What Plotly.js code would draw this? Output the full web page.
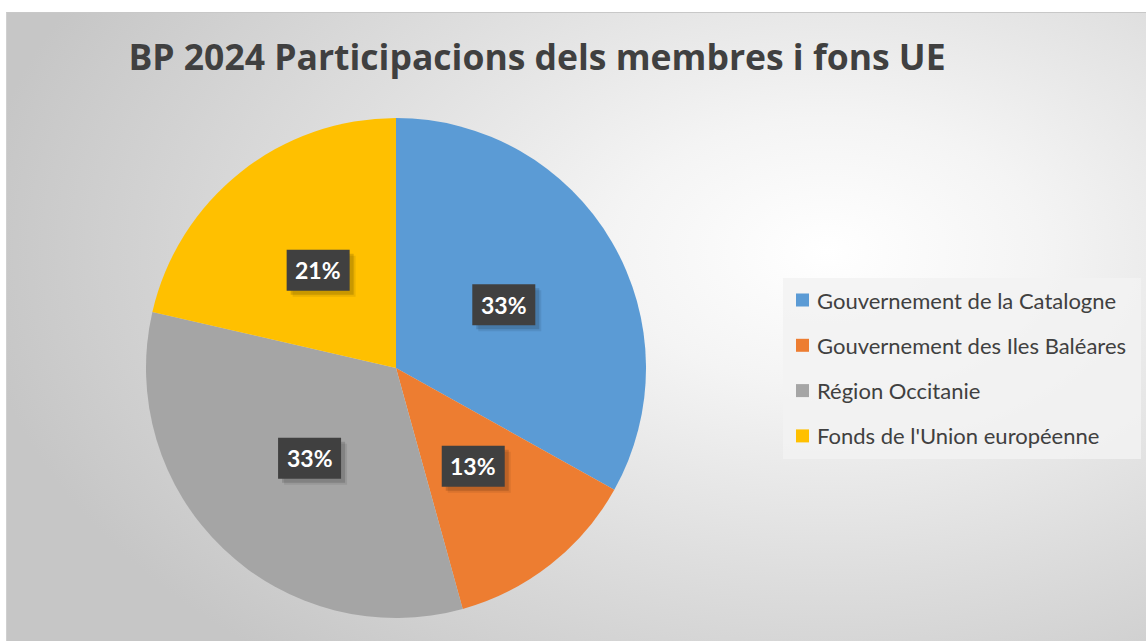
<!DOCTYPE html>
<html>
<head>
<meta charset="utf-8">
<script src="https://cdn.plot.ly/plotly-3.0.1.min.js"></script>
<style>
  html, body { margin:0; padding:0; background:#ffffff; }
  #wrap { position:relative; width:1146px; height:641px; overflow:hidden; background:#ffffff; }
  #bg { position:absolute; left:6px; top:12px; right:0; bottom:0;
        border-top:1px solid #c8c8c8; border-left:1px solid #d0d0d0;
        background: radial-gradient(ellipse 75% 85% at 72% 38%, #ffffff 0%, #f4f4f4 25%, #dedede 60%, #c6c6c6 100%); }
  #chart { position:absolute; left:0; top:0; width:1146px; height:641px; }
</style>
</head>
<body>
<div id="wrap"><div id="bg"></div><div id="chart"></div></div>
<script>
const categories = ["Gouvernement de la Catalogne", "Gouvernement des Iles Baléares", "Région Occitanie", "Fonds de l'Union européenne"];
const values = [33.1, 12.6, 32.9, 21.4];
const colors = ["#5B9BD5", "#ED7D31", "#A5A5A5", "#FFC000"];
const titleText = "BP 2024 Participacions dels membres i fons UE";

const W = 1146, H = 641;
const cx = 396, cy = 368, R = 250;
const total = values.reduce((a, b) => a + b, 0);

const trace = {
  type: 'pie',
  labels: categories,
  values: values,
  sort: false,
  direction: 'clockwise',
  rotation: 0,
  marker: { colors: colors, line: { width: 0 } },
  textinfo: 'none',
  hoverinfo: 'skip',
  showlegend: false,
  domain: { x: [(cx - R) / W, (cx + R) / W], y: [1 - (cy + R) / H, 1 - (cy - R) / H] }
};

const annotations = [];
const shapes = [];
let cum = 0;
const bw = 63, bh = 41;
values.forEach((v, i) => {
  const mid = (cum + v / 2) / total * 2 * Math.PI;
  cum += v;
  const px = cx + 0.5 * R * Math.sin(mid);
  const py = cy - 0.5 * R * Math.cos(mid);
  const txt = Math.round(v / total * 100) + '%';
  // soft shadow (two layers)
  [[6, 0.08], [4, 0.14]].forEach(([o, a]) => {
    shapes.push({ type: 'rect', xref: 'paper', yref: 'paper',
      x0: (px - bw / 2 + o) / W, x1: (px + bw / 2 + o) / W,
      y0: 1 - (py + bh / 2 + o) / H, y1: 1 - (py - bh / 2 + o) / H,
      fillcolor: 'rgba(0,0,0,' + a + ')', line: { width: 0 } });
  });
  shapes.push({ type: 'rect', xref: 'paper', yref: 'paper',
    x0: (px - bw / 2) / W, x1: (px + bw / 2) / W,
    y0: 1 - (py + bh / 2) / H, y1: 1 - (py - bh / 2) / H,
    fillcolor: '#404040', line: { width: 0 } });
  annotations.push({
    x: px / W, y: 1 - py / H, xref: 'paper', yref: 'paper',
    xanchor: 'center', yanchor: 'middle',
    text: '<b>' + txt + '</b>', showarrow: false,
    font: { family: 'Lato, "Open Sans", sans-serif', size: 23, color: '#ffffff' }
  });
});

// legend (drawn from categories/colors)
const legX = 796, legY0 = 300, legDy = 45.3;
shapes.unshift({ type: 'rect', xref: 'paper', yref: 'paper', x0: 783 / W, x1: 1141 / W,
  y0: 1 - 459 / H, y1: 1 - 278 / H, fillcolor: 'rgba(242,242,242,0.85)', line: { width: 0 }, layer: 'below' });
categories.forEach((c, i) => {
  const y = legY0 + i * legDy;
  shapes.push({ type: 'rect', xref: 'paper', yref: 'paper',
    x0: legX / W, x1: (legX + 13) / W, y0: 1 - (y + 6.5) / H, y1: 1 - (y - 6.5) / H,
    fillcolor: colors[i], line: { width: 0 } });
  annotations.push({ x: (legX + 19) / W, y: 1 - y / H, xref: 'paper', yref: 'paper',
    xanchor: 'left', yanchor: 'middle', text: c, showarrow: false,
    font: { family: 'Lato, "Open Sans", sans-serif', size: 22, color: '#404040' } });
});

const layout = {
  width: W, height: H,
  margin: { l: 0, r: 0, t: 0, b: 0 },
  paper_bgcolor: 'rgba(0,0,0,0)',
  plot_bgcolor: 'rgba(0,0,0,0)',
  title: { text: '<b>' + titleText + '</b>', x: 537 / W, xanchor: 'center', y: 1 - 58 / H, yanchor: 'middle',
    font: { family: '"Open Sans", Lato, sans-serif', size: 35.5, color: '#404040' } },
  showlegend: false,
  annotations: annotations,
  shapes: shapes
};

Plotly.newPlot('chart', [trace], layout, { displayModeBar: false, staticPlot: true });
</script>
</body>
</html>
